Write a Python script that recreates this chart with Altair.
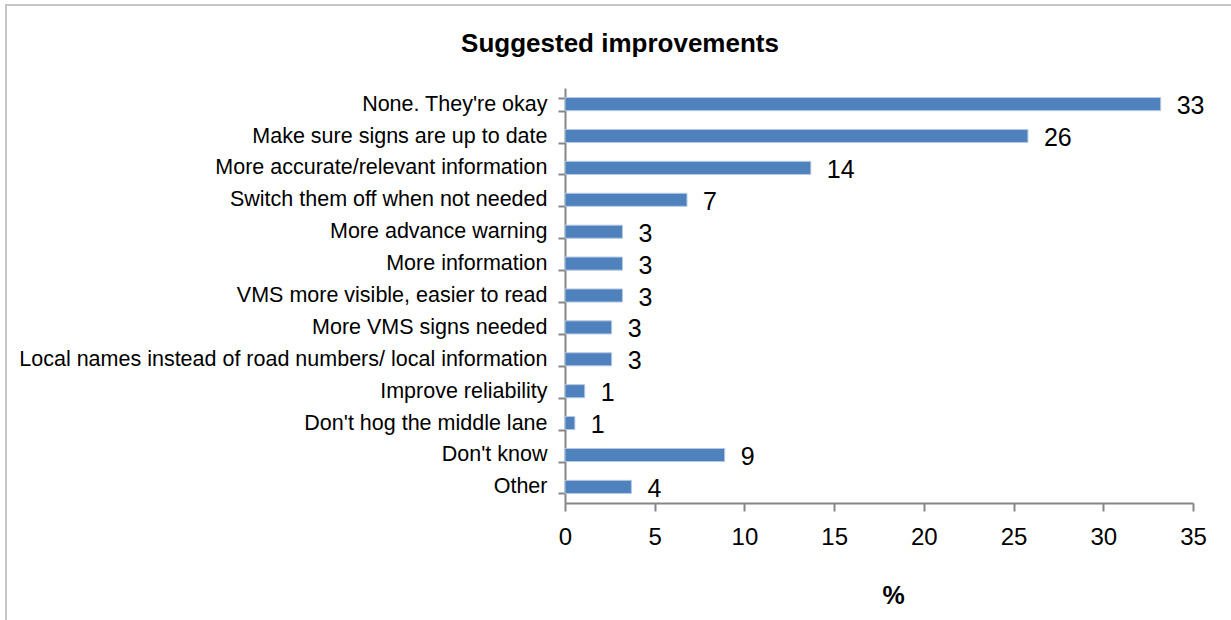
import altair as alt
import pandas as pd

# Survey answers, top to bottom, and share of respondents (%)
categories = [
    "None. They're okay",
    "Make sure signs are up to date",
    "More accurate/relevant information",
    "Switch them off when not needed",
    "More advance warning",
    "More information",
    "VMS more visible, easier to read",
    "More VMS signs needed",
    "Local names instead of road numbers/ local information",
    "Improve reliability",
    "Don't hog the middle lane",
    "Don't know",
    "Other",
]
percent = [33.2, 25.8, 13.7, 6.8, 3.2, 3.2, 3.2, 2.6, 2.6, 1.1, 0.55, 8.9, 3.7]
x_ticks = [0, 5, 10, 15, 20, 25, 30, 35]
chart_title = "Suggested improvements"

df = pd.DataFrame({"answer": categories, "pct": percent})

FONT = "Liberation Sans"
AXIS_GREY = "#868686"

y_enc = alt.Y(
    "answer:N",
    sort=categories,
    title=None,
    scale=alt.Scale(paddingInner=0.59, paddingOuter=0.3),
    axis=alt.Axis(
        labelFont=FONT,
        labelFontSize=21.5,
        labelColor="#000000",
        labelPadding=11,
        labelLimit=800,
        tickBand="extent",
        tickSize=7,
        tickColor=AXIS_GREY,
        domainColor=AXIS_GREY,
        domainWidth=2,
        tickWidth=2,
        grid=False,
    ),
)

x_enc = alt.X(
    "pct:Q",
    scale=alt.Scale(domain=[0, 35], nice=False),
    title="%",
    axis=alt.Axis(
        values=x_ticks,
        labelFont=FONT,
        labelFontSize=24,
        labelColor="#000000",
        labelPadding=14,
        labelFlush=False,
        tickSize=8,
        tickColor=AXIS_GREY,
        tickWidth=2,
        domainColor=AXIS_GREY,
        domainWidth=2,
        grid=False,
        titleFont=FONT,
        titleFontSize=25,
        titleFontWeight="bold",
        titleColor="#000000",
        titlePadding=34,
        titleX=328,
    ),
)

bars = alt.Chart(df).mark_bar(
    color="#4F81BD", stroke="#B4C9E3", strokeWidth=1
).encode(x=x_enc, y=y_enc)

labels = alt.Chart(df).mark_text(
    align="left", baseline="middle", dx=16, dy=2, font=FONT, fontSize=25, color="#000000"
).encode(
    x="pct:Q",
    y=alt.Y("answer:N", sort=categories),
    text=alt.Text("pct:Q", format=".0f"),
)

# light grey frame around the whole figure (top and left edges) and the heading
single = alt.Data(values=[{}])
frame_top = alt.Chart(single).mark_rule(color="#C6C6C6", strokeWidth=2).encode(
    x=alt.value(-560), x2=alt.value(700), y=alt.value(-83)
)
frame_left = alt.Chart(single).mark_rule(color="#C6C6C6", strokeWidth=2).encode(
    x=alt.value(-559), y=alt.value(-84), y2=alt.value(600)
)
heading = alt.Chart(single).mark_text(
    font=FONT, fontSize=26, fontWeight="bold", color="#000000",
    align="center", baseline="middle", text=chart_title,
).encode(x=alt.value(55), y=alt.value(-44))

chart = (
    alt.layer(frame_top, frame_left, heading, bars, labels)
    .properties(
        width=628,
        height=415,
        padding={"left": 565, "top": 88, "right": 38, "bottom": 117},
        autosize=alt.AutoSizeParams(type="none"),
        background="#FFFFFF",
    )
    .configure_view(stroke=None)
)

chart.save("out.html", embed_options={"renderer": "svg", "actions": False})
